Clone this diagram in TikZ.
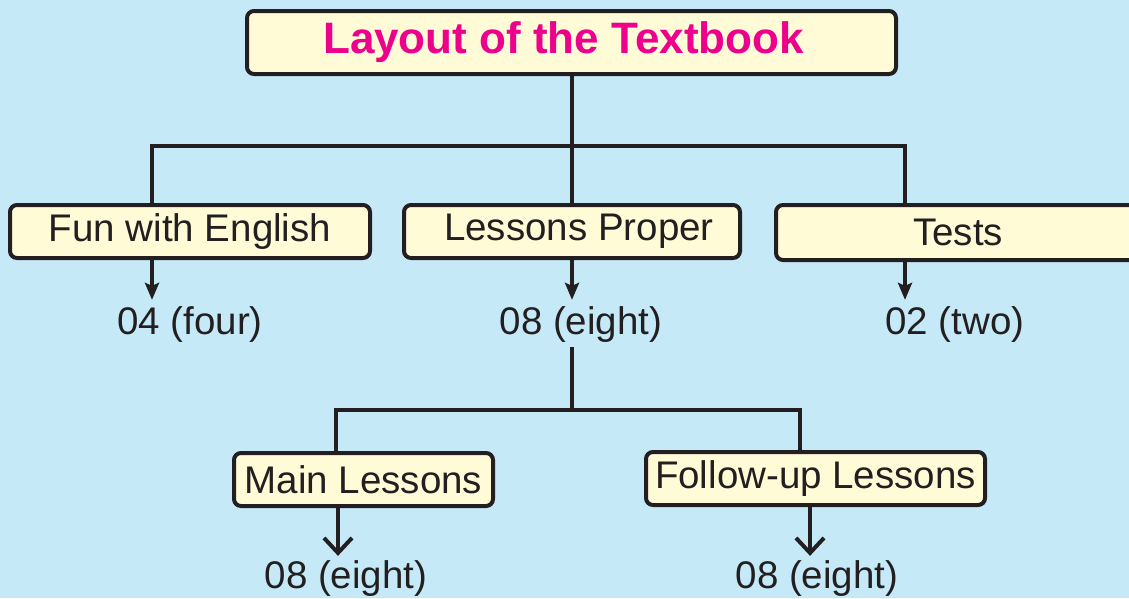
\documentclass[tikz,border=0pt]{standalone}
\usepackage{fontspec}
\setmainfont{Liberation Sans}
\usetikzlibrary{arrows.meta}
\definecolor{bg}{HTML}{C6E9F8}
\definecolor{boxfill}{HTML}{FFFBD7}
\definecolor{ink}{HTML}{231F20}
\definecolor{titlec}{HTML}{EC008C}
\begin{document}
\begin{tikzpicture}[x=1pt,y=-1pt,
  box/.style={draw=ink, line width=4pt, fill=boxfill, rounded corners=7pt, inner sep=0pt,
    font=\fontsize{38.5}{40}\selectfont, text=ink},
  lbl/.style={inner sep=2pt, font=\fontsize{38.5}{40}\selectfont, text=ink},
  conn/.style={draw=ink, line width=4pt},
  farr/.style={conn, -{Stealth[length=17pt,width=14pt,inset=3pt]}},
  oarr/.style={conn, -{Straight Barb[length=15pt,width=28pt,line width=4pt]}}
]
\clip (0,0) rectangle (1129,598);
\fill[bg] (0,0) rectangle (1129,598);
% title
\node[box, minimum width=649pt, minimum height=63pt, font=\fontsize{44}{48}\selectfont\bfseries, text=titlec] (title) at (571.5,42.5) {\hspace*{-16pt}Layout of the Textbook};
% level 1 boxes
\node[box, minimum width=360pt, minimum height=53pt] (fun) at (190,231.5) {Fun with English};
\node[box, minimum width=336pt, minimum height=53pt] (lp) at (572,231.5) {\hspace*{14pt}Lessons Proper};
\node[box, minimum width=364pt, minimum height=55pt] (tests) at (958,232.5) {\raisebox{-3pt}{Tests}};
% counts
\node[lbl] (n1) at (190,325) {04 (four)};
\node[lbl] (n2) at (581,325) {08 (eight)};
\node[lbl] (n3) at (955,325) {02 (two)};
% level 2 boxes
\node[box, minimum width=259pt, minimum height=53pt] (main) at (363.5,479.5) {\raisebox{-2pt}{Main Lessons}};
\node[box, minimum width=339pt, minimum height=53pt] (follow) at (815.5,478.5) {Follow-up Lessons};
\node[lbl] (n4) at (346,579) {08 (eight)};
\node[lbl] (n5) at (817,579) {08 (eight)};
% coordinates
\coordinate (hl) at (152,146);
\coordinate (hm) at (572,146);
\coordinate (hr) at (905,146);
\coordinate (gl) at (336,410);
\coordinate (gm) at (572,410);
\coordinate (gr) at (800,410);
\coordinate (a4) at (338,0);
\coordinate (a5) at (810,0);
% top tree
\draw[conn] (title.south -| hm) -- (hm);
\draw[conn, line cap=rect] (hl) -- (hr);
\draw[conn] (hl) -- (hl |- fun.north);
\draw[conn] (hm) -- (hm |- lp.north);
\draw[conn] (hr) -- (hr |- tests.north);
% arrows to counts
\draw[farr] (hl |- fun.south) -- ([yshift=5pt]hl |- n1.north);
\draw[farr] (hm |- lp.south) -- ([yshift=5pt]hm |- n2.north);
\draw[farr] (hr |- tests.south) -- ([yshift=5pt]hr |- n3.north);
% lower tree
\draw[conn] ([yshift=-2pt]hm |- n2.south) -- (gm);
\draw[conn, line cap=rect] (gl) -- (gr);
\draw[conn] (gl) -- (gl |- main.north);
\draw[conn] (gr) -- (gr |- follow.north);
\draw[oarr] (a4 |- main.south) -- ([yshift=3pt]a4 |- n4.north);
\draw[oarr] (a5 |- follow.south) -- ([yshift=3pt]a5 |- n5.north);
\end{tikzpicture}
\end{document}
